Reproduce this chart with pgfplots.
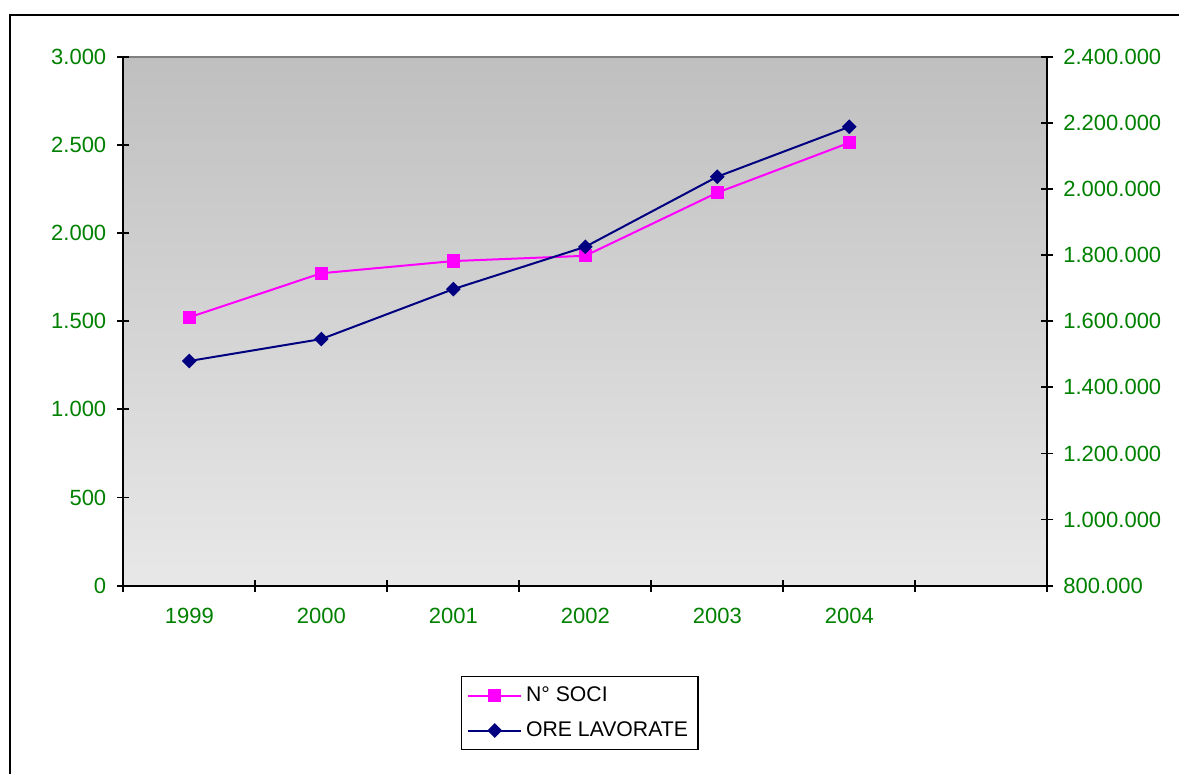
\documentclass[border=0pt]{standalone}
\usepackage{fontspec}
\setmainfont{Liberation Sans}
\usepackage{pgfplots}
\pgfplotsset{compat=1.18}
\definecolor{tickgreen}{RGB}{0,128,0}
\definecolor{soci}{RGB}{255,0,255}
\definecolor{ore}{RGB}{0,0,128}
\begin{document}
\begin{tikzpicture}
\useasboundingbox (0,0) rectangle (589.5pt,386.5pt);
\clip (0,0) rectangle (589.5pt,386.5pt);
\draw[line width=1pt] (5pt,-10pt) -- (5pt,379pt) -- (600pt,379pt);
\pgfplotsset{
  common/.style={
    at={(61.65pt,93.65pt)}, anchor=south west,
    scale only axis, width=462pt, height=264.5pt,
    xmin=0.5, xmax=7.5,
    tick align=center, major tick length=6pt, minor tick length=6pt,
    tick style={black, line width=0.9pt},
    axis line style={black, line width=0.9pt},
    tick label style={font=\fontsize{11}{13}\selectfont, text=tickgreen},
    /pgf/number format/assume math mode=true,
    /pgf/number format/1000 sep={.},
    /pgf/number format/fixed,
    scaled y ticks=false,
  }
}
\begin{axis}[common,
  ymin=0, ymax=3000,
  axis x line*=bottom, axis y line*=left,
  xtick={0.5,1.5,...,7.5}, xticklabels={},
  extra x ticks={1,2,3,4,5,6},
  extra x tick labels={1999,2000,2001,2002,2003,2004},
  extra x tick style={major tick length=0pt, xticklabel style={yshift=-7.5pt}},
  ytick={0,500,1000,1500,2000,2500,3000},
  yticklabel style={xshift=-2pt},
  axis background/.style={top color=black!25, bottom color=black!9, draw=black!50, line width=0.9pt},
]
\addplot[soci, line width=1pt, mark=square*, mark size=2.8pt] coordinates {
  (1,1522) (2,1772) (3,1841) (4,1871) (5,2229) (6,2512)
};
\end{axis}
\begin{axis}[common,
  ymin=800000, ymax=2400000,
  axis x line=none, axis y line*=right,
  ytick={800000,1000000,1200000,1400000,1600000,1800000,2000000,2200000,2400000},
  yticklabel style={xshift=1.5pt},
  legend style={at={(0.365,-0.3106)}, anchor=south west, draw=black, line width=0.6pt,
    font=\fontsize{10.6}{12.5}\selectfont, row sep=4.5pt, inner xsep=3pt, inner ysep=3pt},
  legend cell align=left,
  legend image code/.code={\draw[mark repeat=2,mark phase=2] plot coordinates {(0pt,0pt) (13.25pt,0pt) (26.5pt,0pt)};},
]
\addlegendimage{soci, line width=1pt, mark=square*, mark size=2.8pt}
\addlegendentry{N° SOCI}
\addplot[ore, line width=1pt, mark=square*, mark size=2.1pt, mark options={rotate=45}] coordinates {
  (1,1479600) (2,1546000) (3,1697000) (4,1825000) (5,2037000) (6,2188000)
};
\addlegendentry{ORE LAVORATE}
\end{axis}
\end{tikzpicture}
\end{document}
